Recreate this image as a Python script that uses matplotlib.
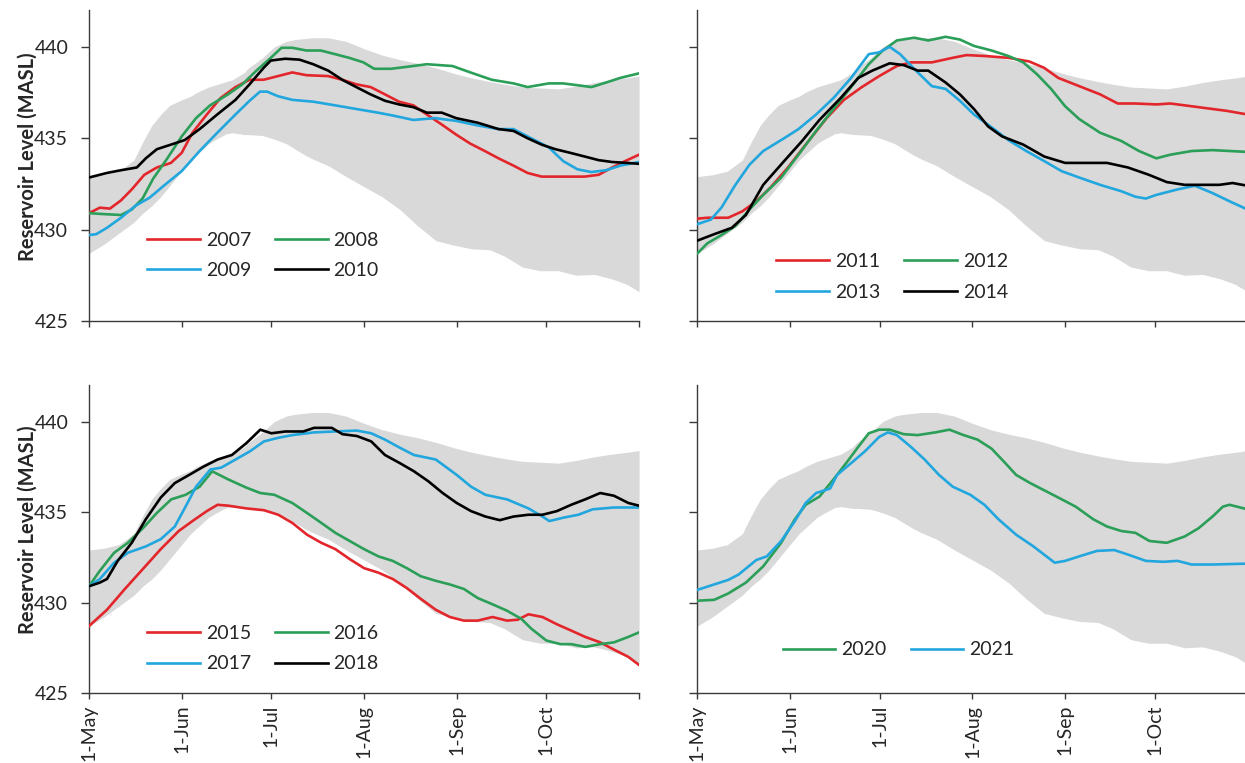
import matplotlib
matplotlib.use("Agg")
import matplotlib.pyplot as plt

plt.rcParams['font.family'] = ['Lato', 'DejaVu Sans']

# Day of season, counted from 1 May
month_ticks = [0, 31, 61, 92, 123, 153, 184]
month_labels = ['1-May', '1-Jun', '1-Jul', '1-Aug', '1-Sep', '1-Oct', '']

# Historical range (min / max envelope)
band_days = [0, 5, 10, 15, 18, 21, 24, 27, 31, 34, 36, 40, 42, 46, 48, 52, 53, 58, 62, 66,
             69, 72, 75, 80, 86, 92, 98, 104, 110, 116, 122, 128, 134, 139, 145, 151, 157,
             163, 169, 175, 180, 184]
band_upper = [432.9, 433.0, 433.2, 433.8, 434.8, 435.7, 436.3, 436.8, 437.1, 437.3, 437.5,
              437.8, 437.9, 438.1, 438.2, 438.6, 438.8, 439.4, 440.0, 440.3, 440.4, 440.45,
              440.5, 440.5, 440.3, 439.9, 439.55, 439.3, 439.1, 438.85, 438.55, 438.3, 438.1,
              437.95, 437.8, 437.75, 437.7, 437.85, 438.05, 438.2, 438.3, 438.4]
band_lower = [428.7, 429.2, 429.8, 430.4, 430.9, 431.3, 431.8, 432.4, 433.2, 433.8, 434.1,
              434.7, 434.9, 435.25, 435.3, 435.2, 435.2, 435.15, 434.95, 434.7, 434.4, 434.1,
              433.85, 433.5, 432.9, 432.35, 431.8, 431.1, 430.2, 429.4, 429.15, 428.95, 428.9,
              428.55, 427.95, 427.75, 427.75, 427.5, 427.55, 427.3, 427.0, 426.6]

# 2007
d2007 = [0, 3.6, 7, 10.7, 14.3, 18.5, 22.7, 27.4, 31, 34.6, 39.4, 44, 49, 53.7, 58.4, 63.2, 68,
         72.7, 80, 84.7, 89.4, 94.2, 99, 103.7, 108.5, 113, 118, 122.8, 127.6, 132.4, 137, 142,
         146.7, 151.4, 156, 161, 165.8, 170.5, 175, 180, 184]
v2007 = [430.9, 431.2, 431.15, 431.6, 432.2, 433.0, 433.4, 433.65, 434.2, 435.3, 436.3, 437.2,
         437.8, 438.2, 438.2, 438.4, 438.6, 438.45, 438.4, 438.2, 437.95, 437.8, 437.4, 437.0,
         436.8, 436.3, 435.75, 435.2, 434.7, 434.3, 433.9, 433.5, 433.1, 432.9, 432.9, 432.9,
         432.9, 433.0, 433.4, 433.8, 434.1]
# 2008
d2008 = [0, 4.8, 10.7, 14.3, 17.9, 21.5, 26.2, 31, 35.8, 40.5, 46.5, 51.3, 56, 60.8, 64.4, 68,
         72.7, 77.5, 82.3, 87, 91.8, 95.4, 101, 106, 113, 121.6, 127.6, 134.7, 142, 146.7,
         153.8, 158.6, 163.4, 168.1, 173, 177.7, 184]
v2008 = [430.9, 430.85, 430.8, 431.1, 431.7, 432.8, 433.9, 435.1, 436.1, 436.8, 437.4, 437.95,
         438.7, 439.4, 439.95, 439.95, 439.8, 439.8, 439.6, 439.4, 439.15, 438.8, 438.8, 438.9,
         439.05, 438.95, 438.6, 438.2, 438.0, 437.8, 438.0, 438.0, 437.9, 437.8, 438.05, 438.3,
         438.55]
# 2009
d2009 = [0, 2.4, 6, 10.7, 15.5, 20.3, 25, 31, 37, 42.9, 49, 53.7, 57.2, 59.6, 63.2, 68, 75,
         82.3, 89.4, 96.6, 101.4, 108.5, 115.7, 122.8, 130, 137, 142, 146.7, 153.8, 158.6,
         163.4, 168, 173, 177.7, 184]
v2009 = [429.7, 429.75, 430.1, 430.65, 431.3, 431.75, 432.4, 433.2, 434.3, 435.3, 436.3, 437.05,
         437.55, 437.55, 437.3, 437.1, 437.0, 436.8, 436.6, 436.4, 436.25, 436.0, 436.1, 435.95,
         435.7, 435.5, 435.5, 435.1, 434.5, 433.75, 433.3, 433.15, 433.25, 433.5, 433.7]
# 2010
d2010 = [0, 6, 10.7, 16, 19, 22.7, 27.4, 32, 37, 42.9, 49, 53.7, 58.4, 60.8, 65.6, 70.4, 75, 80,
         84.7, 89.4, 94.2, 99, 103.7, 108.5, 113, 118, 122.8, 130, 137, 142, 146.7, 151.4, 156,
         161, 165.8, 170.5, 175, 180, 184]
v2010 = [432.85, 433.1, 433.25, 433.4, 433.9, 434.4, 434.65, 434.9, 435.5, 436.3, 437.1, 437.95,
         438.85, 439.25, 439.35, 439.3, 439.05, 438.7, 438.2, 437.8, 437.4, 437.05, 436.85,
         436.7, 436.4, 436.4, 436.1, 435.85, 435.5, 435.4, 435.0, 434.65, 434.4, 434.2, 434.0,
         433.8, 433.7, 433.65, 433.6]

# 2011
d2011 = [0, 3.3, 10.3, 15, 19.7, 24.4, 30.3, 36.2, 43.2, 49, 55, 60.8, 66.7, 71.4, 78.4, 85.4,
         90, 96, 104, 111, 116, 120.7, 127.7, 134.7, 140.6, 146.5, 153.5, 158.2, 165.3, 172.3,
         177, 184]
v2011 = [430.6, 430.65, 430.65, 431.0, 431.55, 432.3, 433.4, 434.65, 436.1, 437.1, 437.8, 438.4,
         438.95, 439.15, 439.15, 439.4, 439.55, 439.5, 439.4, 439.2, 438.85, 438.3, 437.85,
         437.4, 436.9, 436.9, 436.85, 436.9, 436.75, 436.6, 436.5, 436.3]
# 2012
d2012 = [0, 3.3, 8, 12.7, 17.4, 22, 28, 33.8, 39.7, 45.5, 51.4, 57.3, 62, 66.7, 72.5, 77.2, 83,
         87.8, 92.5, 98.4, 104, 109, 113.6, 118.3, 123, 127.7, 134.7, 141.8, 147.7, 153.5, 158.2,
         165.3, 172.3, 184]
v2012 = [428.7, 429.25, 429.7, 430.2, 431.1, 431.9, 432.85, 434.1, 435.4, 436.6, 437.8, 439.05,
         439.8, 440.35, 440.5, 440.35, 440.55, 440.4, 440.05, 439.8, 439.5, 439.15, 438.5, 437.7,
         436.75, 436.05, 435.3, 434.85, 434.3, 433.9, 434.1, 434.3, 434.35, 434.25]
# 2013
d2013 = [0, 4.5, 8, 12.7, 17.4, 22, 29, 33.8, 39.7, 45.5, 51.4, 57.3, 60.8, 64.3, 67.8, 72.5,
         78.4, 83, 87.8, 92.5, 98.4, 104, 110, 116, 121.8, 127.7, 134.7, 141.8, 146.5, 150,
         153.5, 160.6, 166.4, 172.3, 178, 184]
v2013 = [430.3, 430.55, 431.2, 432.45, 433.55, 434.3, 435.0, 435.5, 436.3, 437.2, 438.3, 439.6,
         439.7, 440.0, 439.6, 438.8, 437.85, 437.7, 437.05, 436.3, 435.6, 434.9, 434.3, 433.75,
         433.2, 432.85, 432.45, 432.1, 431.8, 431.7, 431.9, 432.2, 432.4, 432.0, 431.55, 431.1]
# 2014
d2014 = [0, 5.6, 11.5, 16.2, 22, 29, 35, 40.8, 47.9, 53.8, 58.5, 64.3, 69, 73.7, 77.2, 83,
         87.8, 92.5, 97.2, 101.9, 109, 116, 123, 130, 137, 144, 151, 157, 163, 169, 174.6, 179,
         184]
v2014 = [429.4, 429.75, 430.1, 430.8, 432.45, 433.75, 434.85, 436.0, 437.2, 438.3, 438.7, 439.1,
         439.0, 438.7, 438.7, 438.05, 437.4, 436.6, 435.65, 435.1, 434.65, 434.0, 433.65, 433.65,
         433.65, 433.4, 433.0, 432.6, 432.45, 432.45, 432.45, 432.55, 432.4]

# 2015
d2015 = [0, 6, 12, 18, 24, 30, 34.6, 39.4, 43, 46.6, 52.6, 58.5, 63.3, 68, 72.9, 77.7, 82.4,
         87.2, 92, 96.8, 101.6, 106.3, 111, 116, 120.7, 125.4, 130, 135, 139.8, 143.4, 147,
         151.7, 156.5, 161.3, 166, 171, 175.6, 180.4, 184]
v2015 = [428.7, 429.6, 430.75, 431.85, 432.95, 433.95, 434.5, 435.05, 435.4, 435.35, 435.2,
         435.1, 434.85, 434.4, 433.75, 433.3, 432.95, 432.4, 431.9, 431.65, 431.3, 430.8, 430.2,
         429.6, 429.2, 429.0, 429.0, 429.2, 429.0, 429.05, 429.35, 429.2, 428.8, 428.45, 428.1,
         427.8, 427.4, 427.0, 426.55]
# 2016
d2016 = [0, 3.6, 8.4, 13, 18, 22.7, 27.5, 32.3, 37, 41.2, 46.6, 52.6, 57.3, 62, 68, 72.9, 77.7,
         82.4, 87.2, 92, 96.8, 101.6, 106.3, 111, 116, 120.7, 125.4, 130, 135, 139.8, 144.6, 148,
         153, 157.7, 161.3, 166, 171, 175.6, 180.4, 184]
v2016 = [430.9, 431.75, 432.75, 433.3, 434.1, 434.95, 435.7, 435.95, 436.4, 437.25, 436.8,
         436.35, 436.05, 435.95, 435.5, 434.95, 434.4, 433.85, 433.4, 432.95, 432.55, 432.3,
         431.9, 431.45, 431.2, 431.0, 430.75, 430.25, 429.9, 429.55, 429.1, 428.55, 427.9, 427.7,
         427.7, 427.55, 427.7, 427.8, 428.1, 428.35]
# 2017
d2017 = [0, 3.6, 8.4, 13, 19, 24, 28.7, 32.3, 35.8, 40.6, 44.2, 49, 53.8, 58.5, 63.3, 68, 75.3,
         82.4, 89.6, 94.4, 99, 104, 108.7, 116, 123, 127.8, 132.6, 139.8, 147, 151.7, 154, 159,
         163.7, 168.5, 175.6, 184]
v2017 = [430.9, 431.3, 432.2, 432.75, 433.1, 433.5, 434.2, 435.3, 436.4, 437.35, 437.45, 437.9,
         438.35, 438.9, 439.1, 439.25, 439.4, 439.45, 439.5, 439.35, 439.0, 438.55, 438.15, 437.9,
         437.05, 436.4, 435.95, 435.7, 435.2, 434.75, 434.5, 434.7, 434.85, 435.15, 435.25,
         435.25]
# 2018
d2018 = [0, 3.6, 6, 9.6, 14.3, 19, 24, 28.7, 33.5, 38.2, 43, 47.8, 52.6, 57.3, 61, 65.7, 71.7,
         75.3, 81.2, 84.8, 89.6, 94.4, 99, 104, 108.7, 113.5, 118.3, 123, 127.8, 132.6, 137.4,
         142, 147, 151.7, 156.5, 161.3, 166, 171, 175.6, 180.4, 184]
v2018 = [430.9, 431.1, 431.3, 432.3, 433.3, 434.6, 435.8, 436.6, 437.05, 437.5, 437.9, 438.15,
         438.8, 439.55, 439.35, 439.45, 439.45, 439.65, 439.65, 439.3, 439.2, 438.9, 438.15,
         437.7, 437.25, 436.7, 436.05, 435.5, 435.05, 434.75, 434.55, 434.75, 434.85, 434.85,
         435.05, 435.4, 435.7, 436.05, 435.9, 435.5, 435.35]

# 2020
d2020 = [0, 5.6, 10.3, 16.2, 22, 28, 32.6, 36.2, 40.8, 45.5, 50.2, 53.8, 57.3, 60.8, 64.3, 69,
         73.7, 79.6, 84.3, 89, 93.7, 98.4, 103, 106.6, 111.3, 116, 120.7, 126.5, 132.4, 137,
         141.8, 146.5, 151.2, 157, 163, 167.6, 172.3, 175.8, 178, 184]
v2020 = [430.1, 430.15, 430.5, 431.1, 432.0, 433.3, 434.6, 435.4, 435.85, 436.8, 437.8, 438.6,
         439.35, 439.55, 439.55, 439.3, 439.25, 439.4, 439.55, 439.25, 439.0, 438.5, 437.7,
         437.05, 436.6, 436.2, 435.8, 435.3, 434.6, 434.2, 433.95, 433.85, 433.4, 433.3, 433.65,
         434.1, 434.75, 435.3, 435.4, 435.15]
# 2021
d2021 = [0, 5.6, 10.3, 13.8, 19.7, 23.2, 28, 32.6, 36.2, 39.7, 44.4, 46.7, 51.4, 56, 60.8, 63.7,
         66.7, 71.4, 76, 80.8, 85.4, 91.3, 96, 100.7, 106.6, 112.4, 119.5, 123, 127.7, 133.6,
         139.4, 144, 150, 155.9, 160.6, 165.3, 172.3, 184]
v2021 = [430.7, 431.0, 431.25, 431.55, 432.35, 432.55, 433.4, 434.5, 435.5, 436.05, 436.3,
         437.05, 437.7, 438.35, 439.15, 439.4, 439.25, 438.6, 437.9, 437.05, 436.4, 435.95,
         435.4, 434.6, 433.75, 433.1, 432.2, 432.3, 432.55, 432.85, 432.9, 432.65, 432.3, 432.25,
         432.3, 432.1, 432.1, 432.15]

RED = '#e2262b'
GREEN = '#2b9e58'
BLUE = '#22a6de'
BLACK = '#000000'

panels = [
    dict(rect=[0.0715, 0.5793, 0.4418, 0.4072], left=True, bottom=False,
         series=[('2007', d2007, v2007, RED), ('2008', d2008, v2008, GREEN),
                 ('2009', d2009, v2009, BLUE), ('2010', d2010, v2010, BLACK)],
         leg=(0.106, 0.288)),
    dict(rect=[0.5602, 0.5793, 0.4418, 0.4072], left=False, bottom=False,
         series=[('2011', d2011, v2011, RED), ('2012', d2012, v2012, GREEN),
                 ('2013', d2013, v2013, BLUE), ('2014', d2014, v2014, BLACK)],
         leg=(0.1436, 0.218)),
    dict(rect=[0.0715, 0.0917, 0.4418, 0.4033], left=True, bottom=True,
         series=[('2015', d2015, v2015, RED), ('2016', d2016, v2016, GREEN),
                 ('2017', d2017, v2017, BLUE), ('2018', d2018, v2018, BLACK)],
         leg=(0.106, 0.222)),
    dict(rect=[0.5602, 0.0917, 0.4418, 0.4033], left=False, bottom=True,
         series=[('2020', d2020, v2020, GREEN), ('2021', d2021, v2021, BLUE)],
         leg=(0.155, 0.168)),
]

fig = plt.figure(figsize=(12.45, 7.63), dpi=100)

for p in panels:
    ax = fig.add_axes(p['rect'])
    ax.fill_between(band_days, band_lower, band_upper, color='#d9d9d9', linewidth=0, zorder=1)
    for name, d, v, c in p['series']:
        ax.plot(d, v, color=c, lw=1.9, label=name, zorder=3)
    ax.set_xlim(0, 184)
    ax.set_ylim(425, 442)
    ax.set_yticks([425, 430, 435, 440])
    ax.set_xticks(month_ticks)
    for s in ('top', 'right'):
        ax.spines[s].set_visible(False)
    for s in ('left', 'bottom'):
        ax.spines[s].set_color('#3a3a3a')
        ax.spines[s].set_linewidth(1.0)
    ax.tick_params(axis='both', direction='out', width=1.0, color='#3a3a3a',
                   labelsize=14, labelcolor='#262626')
    ax.tick_params(axis='y', length=6, pad=9)
    ax.tick_params(axis='x', length=4.5, pad=4)
    if p['left']:
        ax.set_ylabel('Reservoir Level (MASL)', fontsize=14.5, fontweight='bold',
                      color='#262626')
        ax.yaxis.set_label_coords(-0.094, 0.53)
    else:
        ax.set_yticklabels([])
    if p['bottom']:
        ax.set_xticklabels(month_labels, rotation=90)
    else:
        ax.set_xticklabels([])

    # legend entries fill row by row
    handles, labels = ax.get_legend_handles_labels()
    if len(handles) == 4:
        order = [0, 2, 1, 3]
        handles = [handles[i] for i in order]
        labels = [labels[i] for i in order]
    ax.legend(handles, labels, loc='upper left', bbox_to_anchor=p['leg'], ncol=2,
              frameon=False, fontsize=14, handlelength=2.7, handletextpad=0.3,
              columnspacing=1.25, labelspacing=0.7, borderpad=0, borderaxespad=0,
              labelcolor='#262626')

fig.savefig('out.png', dpi=100)
